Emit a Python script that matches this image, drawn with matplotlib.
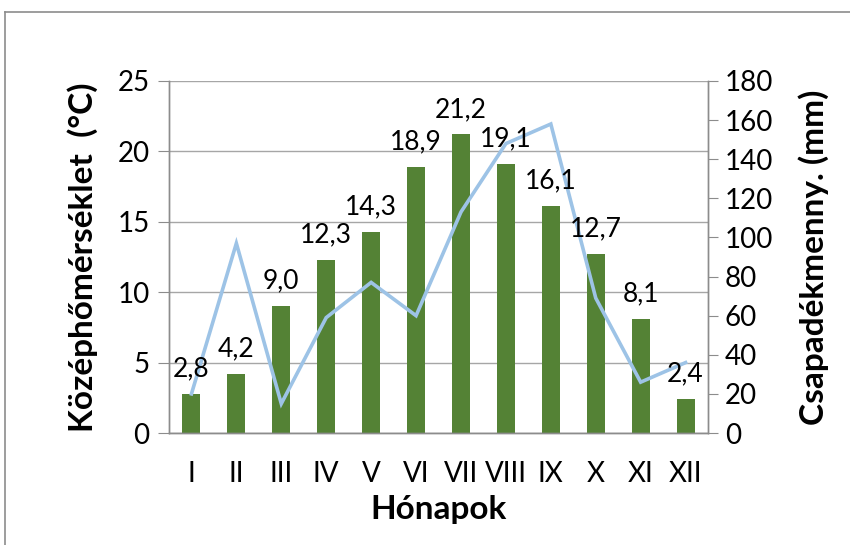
import matplotlib.pyplot as plt
from matplotlib.lines import Line2D

plt.rcParams['font.family'] = ['Lato', 'DejaVu Sans']

honapok = ['I', 'II', 'III', 'IV', 'V', 'VI', 'VII', 'VIII', 'IX', 'X', 'XI', 'XII']
homerseklet = [2.8, 4.2, 9.0, 12.3, 14.3, 18.9, 21.2, 19.1, 16.1, 12.7, 8.1, 2.4]
csapadek = [20, 97, 15, 59, 77, 60, 113, 148, 158, 69, 26, 36]

gray = '#8c8c8c'

fig = plt.figure(figsize=(8.5, 5.45), dpi=100)
ax = fig.add_axes([0.1988, 0.2055, 0.6342, 0.6459])
ax2 = ax.twinx()

x = list(range(len(honapok)))
ax.bar(x, homerseklet, width=0.4, color='#548235', zorder=2)
ax2.plot(x, csapadek, color='#9DC3E6', lw=2.6, solid_joinstyle='miter', zorder=3)

for i, v in zip(x, homerseklet):
    ax2.annotate(f'{v:.1f}'.replace('.', ','), xy=(i, v), xycoords=ax.transData,
                 xytext=(0, 9), textcoords='offset points',
                 ha='center', va='bottom', fontsize=19, color='black')

ax.set_xlim(-0.5, len(honapok) - 0.5)
ax.set_ylim(0, 25)
ax.set_yticks([0, 5, 10, 15, 20, 25])
ax2.set_ylim(0, 180)
ax2.set_yticks(range(0, 181, 20))

ax.set_xticks(x)
ax.set_xticklabels(honapok, fontsize=20)
ax.tick_params(axis='x', length=0, pad=20)
ax.tick_params(axis='y', labelsize=20, length=8, color=gray, pad=6)
ax2.tick_params(axis='y', labelsize=20, length=7, color=gray, pad=5)

ax.yaxis.grid(True, color='#a6a6a6', lw=1)
ax.set_axisbelow(True)

for a in (ax, ax2):
    a.spines['top'].set_visible(False)
    for s in ('left', 'right', 'bottom'):
        a.spines[s].set_color(gray)
        a.spines[s].set_linewidth(1)

ax.set_ylabel('Középhőmérséklet  (°C)', fontsize=24, fontweight='bold', labelpad=14)
ax2.set_ylabel('Csapadékmenny. (mm)', fontsize=24, fontweight='bold', labelpad=18)
ax.set_xlabel('Hónapok', fontsize=24, fontweight='bold', labelpad=6)

# chart frame
fig.add_artist(Line2D([0.006, 0.006], [0, 0.978], color=gray, lw=1.2))
fig.add_artist(Line2D([0.006, 1], [0.978, 0.978], color=gray, lw=1.2))

fig.savefig('out.png', dpi=100)
